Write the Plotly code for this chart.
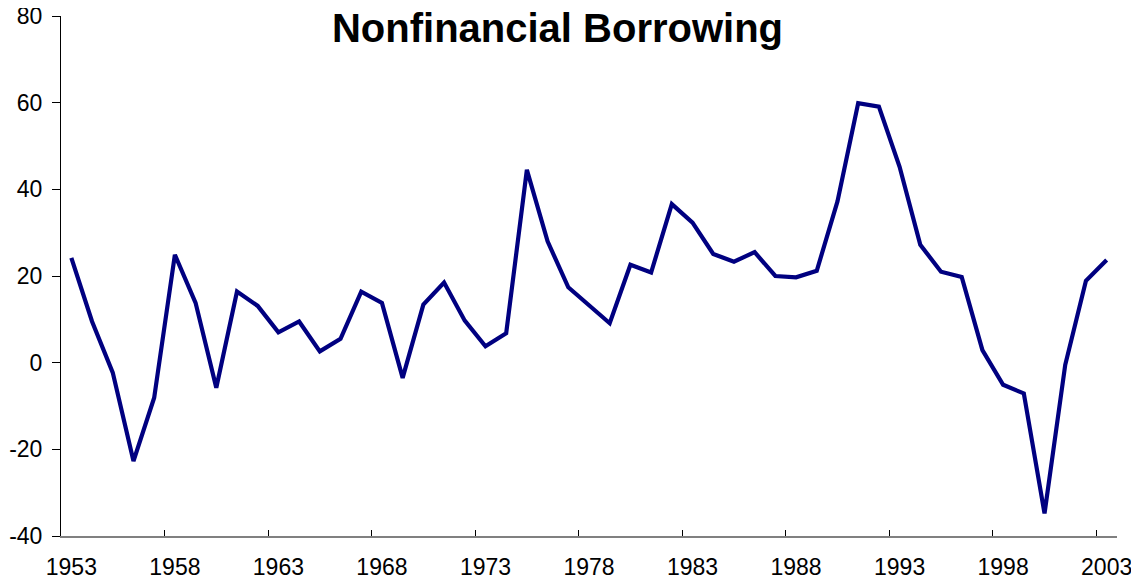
import plotly.graph_objects as go

years = list(range(1953, 2004))
values = [24.2, 9.5, -2.3, -22.7, -8.1, 24.9, 13.8, -5.8, 16.4, 13.1,
          7.0, 9.5, 2.6, 5.5, 16.4, 13.8, -3.5, 13.4, 18.5, 9.7,
          3.8, 6.8, 44.5, 28.0, 17.4, 13.4, 9.1, 22.6, 20.8, 36.6,
          32.3, 25.1, 23.3, 25.5, 20.0, 19.7, 21.2, 37.2, 59.9, 59.1,
          45.2, 27.2, 21.0, 19.8, 2.9, -5.1, -7.1, -34.8, -0.5, 18.9,
          23.7]
y_ticks = [-40, -20, 0, 20, 40, 60, 80]
y_tick_labels = [str(v) for v in y_ticks]
title_text = "Nonfinancial Borrowing"

FONT = "Liberation Sans, Arial, sans-serif"
W, H = 1131, 580  # page body has an 8px margin

fig = go.Figure()
fig.add_trace(go.Scatter(
    x=[str(y) for y in years], y=values, mode="lines",
    line=dict(color="#000080", width=4.2),
    showlegend=False, hoverinfo="x+y",
))

fig.update_layout(
    width=W, height=H,
    margin=dict(l=53, r=22, t=8, b=52, autoexpand=False),
    paper_bgcolor="white", plot_bgcolor="white",
    font=dict(family=FONT, size=23, color="black"),
    title=dict(text="<b>" + title_text + "</b>", x=549.5 / W, xanchor="center",
               xref="container", yref="container", y=1 - 20 / H, yanchor="middle",
               automargin=False,
               font=dict(family=FONT, size=40, color="black")),
    xaxis=dict(type="category", range=[-0.5, len(years) - 0.5],
               tickmode="linear", tick0=0, dtick=5, tickson="boundaries",
               ticks="inside", ticklen=6, tickwidth=1, tickcolor="black",
               showline=True, linecolor="#808080", linewidth=2,
               showgrid=False, zeroline=False, ticklabelstandoff=9,
               tickangle=0, automargin=False,
               tickfont=dict(family=FONT, size=23, color="black")),
    yaxis=dict(range=[-40, 80], tickmode="array", tickvals=y_ticks, ticktext=y_tick_labels,
               ticks="outside", ticklen=8, tickwidth=1, tickcolor="black",
               showline=True, linecolor="black", linewidth=1,
               showgrid=False, zeroline=False, ticklabelstandoff=5,
               tickangle=0, automargin=False,
               tickfont=dict(family=FONT, size=23, color="black")),
)

fig.write_html("out.html")
